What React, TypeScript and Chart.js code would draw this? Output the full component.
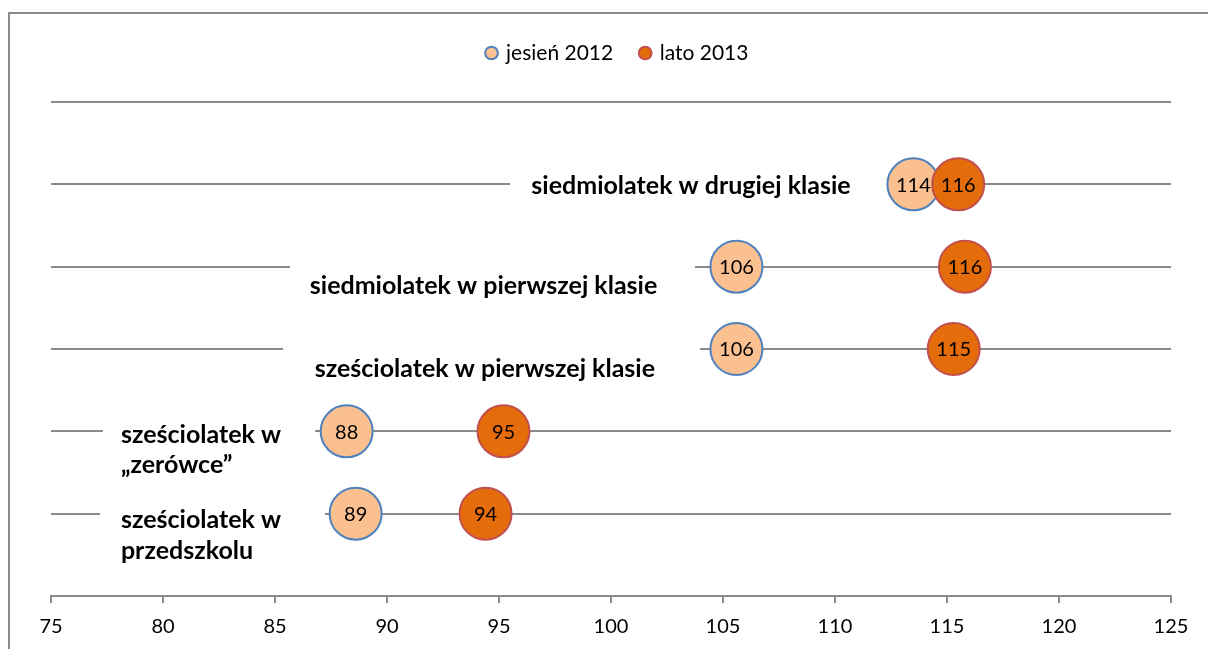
import React, { useEffect, useRef } from "react";
import { Chart, registerables } from "chart.js";

Chart.register(...registerables);

// ---- data ----
const categories = [
  "sześciolatek w przedszkolu",
  "sześciolatek w „zerówce”",
  "sześciolatek w pierwszej klasie",
  "siedmiolatek w pierwszej klasie",
  "siedmiolatek w drugiej klasie",
];
const categoryLines = [
  ["sześciolatek w", "przedszkolu"],
  ["sześciolatek w", "„zerówce”"],
  ["sześciolatek w pierwszej klasie"],
  ["siedmiolatek w pierwszej klasie"],
  ["siedmiolatek w drugiej klasie"],
];
const rowLevels = [1, 2, 3, 4, 5];
const seriesNames = ["jesień 2012", "lato 2013"];
const autumn2012 = [88.6, 88.2, 105.6, 105.6, 113.5];
const summer2013 = [94.4, 95.2, 115.3, 115.8, 115.5];
const xMin = 75;
const xMax = 125;
const xStep = 5;

// ---- label layout (x in axis units, y offsets in px from the row line) ----
const rowLayout = [
  { gapFrom: 77.19, gapTo: 87.23, align: "left", textX: 78.12, baselines: [14, 45] },
  { gapFrom: 77.32, gapTo: 86.79, align: "left", textX: 78.12, baselines: [12, 42] },
  { gapFrom: 85.36, gapTo: 103.97, align: "center", textX: 94.37, baselines: [28] },
  { gapFrom: 85.67, gapTo: 103.75, align: "center", textX: 94.31, baselines: [27] },
  { gapFrom: 95.49, gapTo: 112.32, align: "center", textX: 103.57, baselines: [10] },
];

const GRID = "#8a8a8a";

const framePlugin = {
  id: "frame",
  afterLayout(chart: any) {
    // nudge the legend slightly right, as in the reference
    if (chart.legend) {
      chart.legend.left += 7;
      chart.legend.right += 7;
    }
  },
  beforeDraw(chart: any) {
    const { ctx } = chart;
    ctx.save();
    ctx.fillStyle = "#ffffff";
    ctx.fillRect(0, 0, chart.width, chart.height);
    ctx.strokeStyle = GRID;
    ctx.lineWidth = 2;
    ctx.strokeRect(9, 13, chart.width + 40, chart.height + 40);
    ctx.restore();
  },
};

const rowLabelPlugin = {
  id: "rowLabels",
  beforeDatasetsDraw(chart: any) {
    const { ctx } = chart;
    const xs = chart.scales.x;
    const ys = chart.scales.y;
    ctx.save();
    rowLayout.forEach((r, i) => {
      const yy = ys.getPixelForValue(rowLevels[i]);
      const x0 = xs.getPixelForValue(r.gapFrom);
      const x1 = xs.getPixelForValue(r.gapTo);
      ctx.fillStyle = "#ffffff";
      ctx.fillRect(x0, yy - 3, x1 - x0, 6);
      ctx.fillStyle = "#000000";
      ctx.font = "bold 25px Lato";
      ctx.textAlign = r.align;
      ctx.textBaseline = "alphabetic";
      const tx = xs.getPixelForValue(r.textX);
      categoryLines[i].forEach((line, j) => {
        ctx.fillText(line, tx, yy + r.baselines[j]);
      });
    });
    ctx.restore();
  },
};

const valueLabelPlugin = {
  id: "valueLabels",
  afterDatasetsDraw(chart: any) {
    const { ctx } = chart;
    ctx.save();
    ctx.fillStyle = "#000000";
    ctx.font = "20px Lato";
    ctx.textAlign = "center";
    ctx.textBaseline = "middle";
    chart.data.datasets.forEach((ds: any, di: number) => {
      const meta = chart.getDatasetMeta(di);
      meta.data.forEach((el: any, k: number) => {
        const v = ds.data[k].x;
        ctx.fillText(String(Math.round(v)), el.x, el.y + 1);
      });
    });
    ctx.restore();
  },
};

export default function App() {
  const ref = useRef<HTMLCanvasElement | null>(null);

  useEffect(() => {
    if (!ref.current) return;
    const chart = new Chart(ref.current, {
      type: "scatter",
      data: {
        datasets: [
          {
            label: seriesNames[0],
            data: autumn2012.map((v, i) => ({ x: v, y: rowLevels[i] })),
            backgroundColor: "#FAC090",
            borderColor: "#4F81BD",
            borderWidth: 2,
            pointRadius: 26,
            pointHoverRadius: 26,
            order: 2,
          },
          {
            label: seriesNames[1],
            data: summer2013.map((v, i) => ({ x: v, y: rowLevels[i] })),
            backgroundColor: "#E46C0A",
            borderColor: "#C0504D",
            borderWidth: 2,
            pointRadius: 26,
            pointHoverRadius: 26,
            order: 1,
          },
        ],
      },
      options: {
        responsive: false,
        animation: false,
        events: [],
        layout: { padding: { left: 51, right: 37, top: 14.5, bottom: -2 } },
        plugins: {
          legend: {
            display: true,
            position: "top",
            weight: 3000,
            labels: {
              usePointStyle: true,
              pointStyle: "circle",
              boxWidth: 8,
              boxHeight: 9,
              padding: 28,
              color: "#000000",
              font: { family: "Lato", size: 21 },
              sort: (a: any, b: any) => a.datasetIndex - b.datasetIndex,
            },
          },
          title: {
            display: true,
            text: " ",
            font: { size: 10, lineHeight: 1 },
            padding: { top: 0, bottom: 18.5 },
          },
          tooltip: { enabled: false },
        },
        scales: {
          x: {
            type: "linear",
            position: "bottom",
            min: xMin,
            max: xMax,
            ticks: {
              stepSize: xStep,
              color: "#000000",
              font: { family: "Lato", size: 20 },
              padding: 12,
            },
            grid: {
              drawOnChartArea: false,
              drawTicks: true,
              tickLength: 7,
              color: GRID,
              lineWidth: 2,
            },
            border: { display: true, color: GRID, width: 2 },
          },
          y: {
            type: "linear",
            min: 0,
            max: 6,
            ticks: { display: false, stepSize: 1 },
            grid: {
              drawTicks: false,
              lineWidth: 2,
              color: (c: any) => (c.tick && c.tick.value === 0 ? "rgba(0,0,0,0)" : GRID),
            },
            border: { display: false },
          },
        },
      },
      plugins: [framePlugin, rowLabelPlugin, valueLabelPlugin],
    } as any);
    return () => chart.destroy();
  }, []);

  return (
    <div style={{ position: "fixed", left: 0, top: 0, width: 1208, height: 649 }}>
      <canvas ref={ref} width={1208} height={649} style={{ display: "block" }} />
    </div>
  );
}
